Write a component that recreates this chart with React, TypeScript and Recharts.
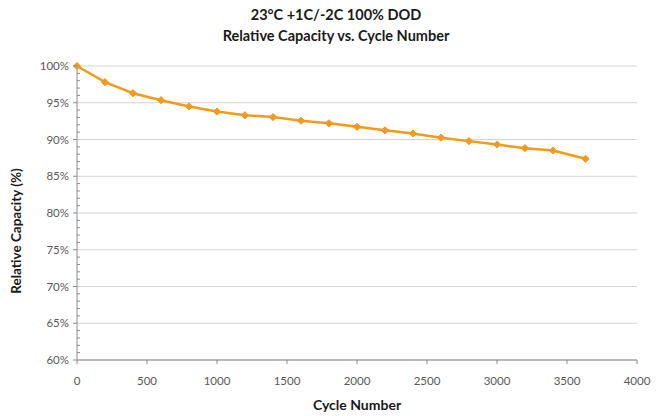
import React from 'react';
import { LineChart, Line, XAxis, YAxis, CartesianGrid } from 'recharts';

const cycles = [0, 200, 400, 600, 800, 1000, 1200, 1400, 1600, 1800, 2000, 2200, 2400, 2600, 2800, 3000, 3200, 3400, 3632];
const capacity = [100, 97.8, 96.3, 95.35, 94.5, 93.8, 93.3, 93.05, 92.55, 92.2, 91.72, 91.25, 90.82, 90.25, 89.78, 89.32, 88.82, 88.5, 87.38];
const xTicks = [0, 500, 1000, 1500, 2000, 2500, 3000, 3500, 4000];
const yGridTicks = [60, 65, 70, 75, 80, 85, 90, 95, 100];
const yAllTicks = [60, 61, 62, 63, 64, 65, 66, 67, 68, 69, 70, 71, 72, 73, 74, 75, 76, 77, 78, 79, 80, 81, 82, 83, 84, 85, 86, 87, 88, 89, 90, 91, 92, 93, 94, 95, 96, 97, 98, 99, 100];
const titleLine1 = '23°C +1C/-2C 100% DOD';
const titleLine2 = 'Relative Capacity vs. Cycle Number';
const xTitle = 'Cycle Number';
const yTitle = 'Relative Capacity (%)';

const data = cycles.map((c, i) => ({ cycle: c, cap: capacity[i] }));

const FONT = 'Lato, "Open Sans", sans-serif';
const ORANGE = '#f39a1b';
const AXIS = '#8c8c8c';

const YTick = (props: any) => {
  const { x, y, payload } = props;
  const v = payload.value;
  const major = v % 5 === 0;
  if (major) {
    return (
      <g>
        <line x1={x - 4} x2={x} y1={y} y2={y} stroke={AXIS} strokeWidth={1} />
        <text x={x - 8} y={y} dy={4} textAnchor="end" fontSize={11.5} fill="#595959" fontFamily={FONT}>
          {`${v}%`}
        </text>
      </g>
    );
  }
  return <line x1={x} x2={x + 3} y1={y} y2={y} stroke={AXIS} strokeWidth={1} />;
};

const Diamond = (props: any) => {
  const { cx, cy, index } = props;
  if (cx == null || cy == null) return <g key={index} />;
  const r = 3.6;
  return (
    <polygon
      key={index}
      points={`${cx},${cy - r} ${cx + r},${cy} ${cx},${cy + r} ${cx - r},${cy}`}
      fill={ORANGE}
      stroke={ORANGE}
      strokeWidth={1}
    />
  );
};

export default function App() {
  return (
    <div style={{ position: 'absolute', left: 0, top: 0, width: 667, height: 416, background: '#fff' }}>
      <LineChart width={667} height={416} data={data} margin={{ top: 66, right: 30, bottom: 0, left: 0 }}>
        <CartesianGrid vertical={false} horizontalValues={yGridTicks} stroke="#d4d4d4" strokeWidth={1} />
        <XAxis
          dataKey="cycle"
          type="number"
          domain={[0, 4000]}
          ticks={xTicks}
          height={56}
          tickSize={4}
          tickMargin={13}
          axisLine={{ stroke: AXIS }}
          tickLine={{ stroke: AXIS }}
          tick={{ fontSize: 11.5, fill: '#595959', fontFamily: FONT }}
          interval={0}
        />
        <YAxis
          type="number"
          domain={[60, 100]}
          ticks={yAllTicks}
          width={77}
          tickSize={0}
          tickMargin={0}
          tickLine={false}
          axisLine={{ stroke: AXIS }}
          tick={<YTick />}
          interval={0}
        />
        <Line
          dataKey="cap"
          stroke={ORANGE}
          strokeWidth={2.5}
          dot={<Diamond />}
          activeDot={false}
          isAnimationActive={false}
        />
      </LineChart>
      <svg width={667} height={416} style={{ position: 'absolute', left: 0, top: 0, pointerEvents: 'none' }}>
        <text x={336} y={20} textAnchor="middle" fontSize={14.5} fontWeight="bold" fontFamily={FONT} fill="#1a1a1a">
          {titleLine1}
        </text>
        <text x={336} y={41} textAnchor="middle" fontSize={14.5} fontWeight="bold" fontFamily={FONT} fill="#1a1a1a">
          {titleLine2}
        </text>
        <text x={357} y={410} textAnchor="middle" fontSize={14} fontWeight="bold" fontFamily={FONT} fill="#1a1a1a">
          {xTitle}
        </text>
        <text
          x={21}
          y={231}
          textAnchor="middle"
          fontSize={13.5}
          fontWeight="bold"
          fontFamily={FONT}
          fill="#1a1a1a"
          transform="rotate(-90 21 231)"
        >
          {yTitle}
        </text>
      </svg>
    </div>
  );
}
